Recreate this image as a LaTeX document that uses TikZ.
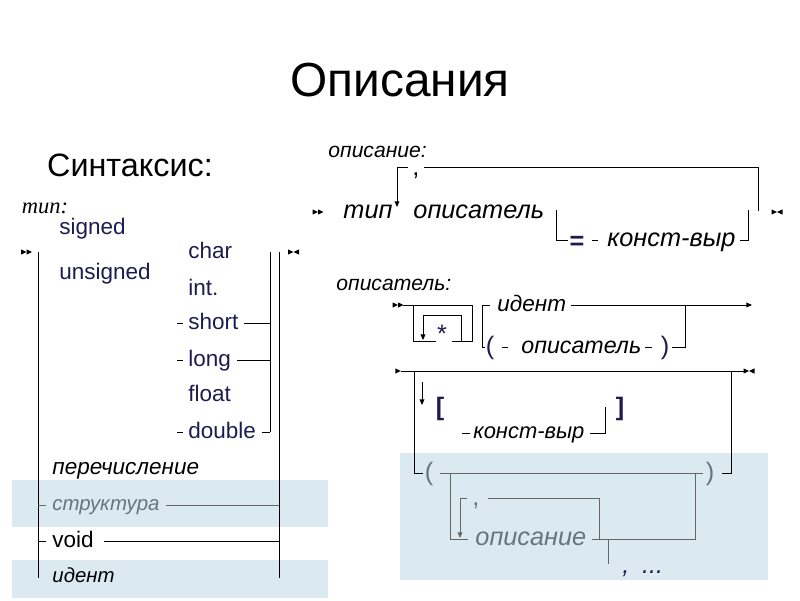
\documentclass[tikz,border=0pt]{standalone}
\usepackage{fontspec}
\setmainfont{Liberation Sans}
\newfontfamily\timesfont{Liberation Serif}
\usetikzlibrary{arrows.meta}

\definecolor{ink}{HTML}{1C1C50}
\definecolor{pale}{HTML}{DBEAF0}
\definecolor{dim}{HTML}{66767E}

\tikzset{
  kw/.style={inner sep=0pt, anchor=base west, text=ink, font=\fontsize{16}{18}\selectfont},
  nt/.style={inner sep=0pt, anchor=base west, font=\fontsize{18}{20}\selectfont\itshape},
  hd/.style={inner sep=0pt, anchor=base west, font=\fontsize{15}{17}\selectfont\itshape},
  sym/.style={inner sep=0pt, text=ink, font=\fontsize{18}{20}\selectfont},
  gl/.style={draw=black!60},
  tip/.style={-{Triangle[length=4pt,width=3.4pt]}},
  runin/.pic={\fill (-5.5,-2.6) -- (0,0) -- (-5.5,2.6) -- cycle;
              \fill (0,-2.6) -- (5.5,0) -- (0,2.6) -- cycle;},
  runout/.pic={\fill (-5.5,-2.6) -- (0,0) -- (-5.5,2.6) -- cycle;
               \fill (5.5,-2.6) -- (0,0) -- (5.5,2.6) -- cycle;},
  runto/.pic={\fill (-2.75,-2.6) -- (2.75,0) -- (-2.75,2.6) -- cycle;}
}

\begin{document}
\begin{tikzpicture}[x=0.025cm, y=-0.025cm, line width=0.6pt]
    \useasboundingbox (0,0) rectangle (800,600);
    % shaded bands
    \fill[pale] (12,480) rectangle (328,527);
    \fill[pale] (12,560) rectangle (328,598);
    \fill[pale] (400,453) rectangle (768,580);

    \node[inner sep=0pt, font=\fontsize{34}{36}\selectfont] (title) at (400,80) {Описания};
    \node[inner sep=0pt, font=\fontsize{23}{25}\selectfont] (syntax) at (130,165) {Синтаксис:};

    % type
    \node[inner sep=0pt, font=\timesfont\itshape\fontsize{16}{18}\selectfont] (typelbl) at (45,208) {тип:};
    \node[kw] (signed) at (59,234) {signed};
    \node[kw] (unsigned) at (59,279) {unsigned};
    \node[kw] (char) at (188,258) {char};
    \node[kw] (int) at (188,295) {int.};
    \node[kw] (short) at (188,329) {short};
    \node[kw] (long) at (188,366) {long};
    \node[kw] (float) at (188,401) {float};
    \node[kw] (double) at (188,438) {double};
    \node[kw, text=black, font=\fontsize{16}{18}\selectfont\itshape] (enum) at (52,474) {перечисление};
    \node[kw, text=dim, font=\fontsize{14.5}{16}\selectfont\itshape] (struct) at (52,510.5) {структура};
    \node[kw, text=black] (void) at (52,547) {void};
    \node[kw, text=black, font=\fontsize{14.5}{16}\selectfont\itshape] (tident) at (52,582.5) {идент};

    \coordinate (lrail) at (38,252);
    \coordinate (rrail) at (270,252);
    \coordinate (orail) at (279,252);
    \pic at (26.5,252) {runin};
    \pic at (293.5,252) {runout};
    \draw (lrail) -- (38,578);
    \draw (rrail) -- (270,432);
    \draw (orail) -- (279,578);
    \foreach \t/\g in {short/5,long/6,double/6} {
        \draw (\t.base west) ++(-11,-6) -- ++(6,0);
        \draw (\t.base east) ++(\g,-6) coordinate (p) -- (p -| rrail);
    }
    \draw[gl] (lrail |- 0,505) -- ++(8,0);
    \draw[gl] (struct.base east) ++(6,-5.5) coordinate (p) -- (p -| orail);
    \draw (lrail |- 0,541) -- ++(8,0);
    \draw (void.base east) ++(10,-6) coordinate (p) -- (p -| orail);

    % declaration
    \node[hd] (decllbl) at (328,157) {описание:};
    \pic at (318,212) {runin};
    \node[nt] (dtype) at (343,218.6) {тип};
    \node[nt] (ddecl) at (413,218.6) {описатель};
    \node[sym, text=black, anchor=base] (dcomma) at (416,175) {,};
    \draw (758,211) -- (758,167) -- (424,167);
    \draw[tip] (408,167) -- (397,167) -- (397,207);
    \node[sym, font=\bfseries\fontsize{18}{20}\selectfont] (deq) at (577,243) {=};
    \node[nt] (dconst) at (607,246.6) {конст-выр};
    \draw (556,210) -- (556,240) -- (568,240);
    \draw (592,240) -- (598,240);
    \draw (dconst.base east) ++(4,-6.6) -- (748,240) -- (748,210);
    \pic at (777,212) {runout};

    % declarator
    \node[hd] (dcllbl) at (336,290.5) {описатель:};
    \pic at (398,305) {runin};
    \draw (403,305) -- (472,305) -- (472,341) -- (452,341);
    \draw (413,305) -- (413,341) -- (436,341);
    \draw[tip] (461,341) -- (461,315) -- (423,315) -- (423,340);
    \node[sym] (star) at (442,334) {*};
    \node[nt, font=\fontsize{16}{18}\selectfont\itshape] (ident) at (497,311) {идент};
    \draw (482,305) -- (490,305);
    \draw[tip] (ident.base east) ++(5,-6) -- (752,305);
    \node[sym] (lpar) at (490,348) {(};
    \node[nt, font=\fontsize{16.5}{18}\selectfont\itshape] (inner) at (521,353) {описатель};
    \node[sym] (rpar) at (665,348) {)};
    \draw (482,305) -- (482,347) -- (485,347);
    \draw (502,347) -- (508,347);
    \draw (645,347) -- (652,347);
    \draw (672,347) -- (685,347) -- (685,305);

    \pic at (398,371) {runto};
    \draw (401,371) -- (745,371);
    \pic at (749,371) {runout};
    \draw (414,371) -- (414,473) -- (423,473);
    \draw (731,371) -- (731,473) -- (722,473);
    \draw[tip] (422,382) -- (422,405);
    \node[sym, font=\bfseries\fontsize{18}{20}\selectfont] (lbrk) at (440,409) {[};
    \node[sym, font=\bfseries\fontsize{18}{20}\selectfont] (rbrk) at (620,409) {]};
    \node[nt, font=\fontsize{15.6}{18}\selectfont\itshape] (aconst) at (473,438.7) {конст-выр};
    \draw (462,433) -- (470,433);
    \draw (590,433) -- (605,433) -- (605,407);

    % function parameters
    \node[sym, text=dim] (flpar) at (429,474) {(};
    \node[sym, text=dim] (frpar) at (710,474) {)};
    \draw[gl] (440,473) -- (703,473);
    \draw[gl] (450,473) -- (450,539) -- (468,539);
    \node[nt, text=dim] (param) at (475,545.6) {описание};
    \draw[gl] (param.base east) ++(5,-6.6) -- (695,539) -- (695,473);
    \draw[gl] (608,539) -- (608,564);
    \node[nt, text=ink] (ellip) at (622,573) {,\hspace{9pt}...};
    \draw[gl] (599,539) -- (599,498) -- (488,498);
    \draw[gl, tip] (467,498) -- (460,498) -- (460,538);
    \node[sym, text=dim, anchor=base] (pcomma) at (476,505) {,};
\end{tikzpicture}
\end{document}
